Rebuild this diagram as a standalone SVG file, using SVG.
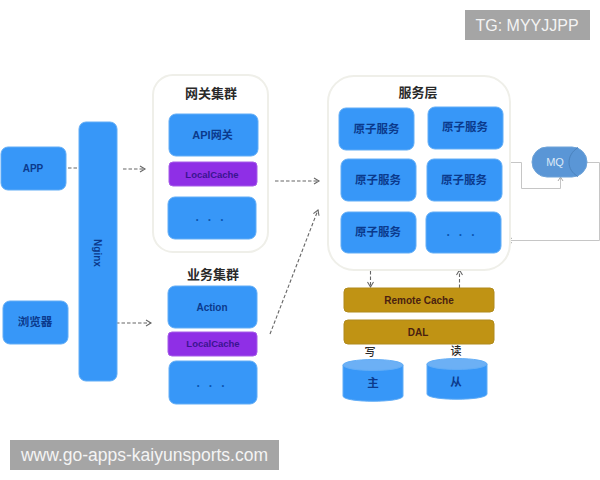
<svg xmlns="http://www.w3.org/2000/svg" width="600" height="480" viewBox="0 0 600 480">
<style>
.b{fill:#3797f8;stroke:#62adf6;stroke-width:1}
.p{fill:#8f2fe6;stroke:#a55ce8;stroke-width:1}
.g{fill:#c09314;stroke:#b08a1c;stroke-width:1}
.c{fill:#fff;stroke:#efefe9;stroke-width:2}
text{font-family:"Liberation Sans","Noto Sans CJK SC",sans-serif;text-anchor:middle}
.t{font-size:10px;font-weight:700;fill:#0b3a8c}
.q{font-size:11px;font-weight:700;fill:#0b3a8c}
.s{font-size:11.5px;font-weight:700;font-family:"Noto Sans CJK SC",sans-serif;fill:#0b3a8c}
.h{font-size:13px;font-weight:700;font-family:"Noto Sans CJK SC",sans-serif;fill:#2a2a2a}
.n{font-size:11px;font-weight:500;font-family:"Noto Sans CJK SC",sans-serif;fill:#2a2a2a}
.l{font-size:9.5px;font-weight:700;fill:#3a1590}
.r{font-size:10px;font-weight:700;fill:#4a1f10}
.e{font-size:12px;font-weight:700;fill:#0b56b0;letter-spacing:9px}
.d{fill:none;stroke:#666;stroke-width:1.1;stroke-dasharray:3.5 2}
.m{fill:none;stroke:#c6c6c6;stroke-width:1}
.w{fill:#a5a5a5}
.wt{fill:#f4f4f4;font-size:17.500px;font-family:"Liberation Sans",sans-serif}
</style>
<defs>
<marker id="a" markerWidth="8" markerHeight="8" refX="6" refY="4" orient="auto" markerUnits="userSpaceOnUse"><path d="M1 1L6 4L1 7" fill="none" stroke="#666" stroke-width="1.1"/></marker>
<marker id="ma" markerWidth="7" markerHeight="7" refX="5" refY="3.5" orient="auto" markerUnits="userSpaceOnUse"><path d="M1 1L5 3.5L1 6" fill="none" stroke="#aaa" stroke-width="1"/></marker>
</defs>
<rect width="600" height="480" fill="#fff"/>
<g id="connectors">
<path class="d" d="M68 168H79"/>
<path class="d" marker-end="url(#a)" d="M123 169H145"/>
<path class="d" marker-end="url(#a)" d="M116 323H151"/>
<path class="d" marker-end="url(#a)" d="M275 181H319"/>
<path class="d" marker-end="url(#a)" d="M270 334L318 210"/>
<path class="d" marker-end="url(#a)" d="M370.500 271V287"/>
<path class="d" marker-end="url(#a)" d="M459.500 288V270"/>
<path class="m" marker-end="url(#ma)" d="M511 162.500H521.500V188.500H560.500V177"/>
<path class="m" marker-end="url(#ma)" d="M587 162.500H599.500V240.500H508"/>
</g>
<g id="gateway-cluster">
<rect class="c" x="153" y="75" width="115" height="177" rx="20"/>
<text class="h" x="211" y="98">网关集群</text>
</g>
<g id="service-layer">
<rect class="c" x="328" y="76" width="182" height="194" rx="26"/>
<text class="h" x="418" y="97">服务层</text>
</g>
<g id="app"><rect class="b" x="1" y="147" width="65" height="43" rx="7"/><text class="t" x="33" y="172">APP</text></g>
<g id="browser"><rect class="b" x="3" y="301" width="65" height="43" rx="7"/><text class="s" x="35" y="326">浏览器</text></g>
<g id="nginx"><rect class="b" x="79" y="122" width="38" height="259" rx="7"/><text class="t" x="97" y="250" transform="rotate(90 94 250)">Nginx</text></g>
<g id="api-gateway"><rect class="b" x="169" y="114" width="89" height="42" rx="7"/><text class="q" x="212.500" y="139">API网关</text></g>
<g id="localcache-1"><rect class="p" x="169" y="162" width="88" height="24" rx="4"/><text class="l" x="212" y="178">LocalCache</text></g>
<g id="gateway-more"><rect class="b" x="168" y="197" width="88" height="42" rx="7"/><text class="e" x="214" y="221">...</text></g>
<g id="business-label"><text class="h" x="213" y="279">业务集群</text></g>
<g id="action"><rect class="b" x="168" y="286" width="89" height="42" rx="7"/><text class="t" x="212" y="311">Action</text></g>
<g id="localcache-2"><rect class="p" x="168" y="332" width="89" height="24" rx="4"/><text class="l" x="213" y="347">LocalCache</text></g>
<g id="business-more"><rect class="b" x="169" y="361" width="88" height="43" rx="7"/><text class="e" x="215" y="387">...</text></g>
<g id="svc-1"><rect class="b" x="339" y="108" width="75" height="42" rx="7"/><text class="s" x="376.500" y="133">原子服务</text></g>
<g id="svc-2"><rect class="b" x="428" y="107" width="75" height="42" rx="7"/><text class="s" x="465" y="131">原子服务</text></g>
<g id="svc-3"><rect class="b" x="341" y="159" width="75" height="42" rx="7"/><text class="s" x="378" y="184">原子服务</text></g>
<g id="svc-4"><rect class="b" x="427" y="159" width="75" height="42" rx="7"/><text class="s" x="464" y="184">原子服务</text></g>
<g id="svc-5"><rect class="b" x="341" y="212" width="75" height="41" rx="7"/><text class="s" x="378" y="236">原子服务</text></g>
<g id="svc-more"><rect class="b" x="426" y="212" width="75" height="41" rx="7"/><text class="e" x="465" y="236">...</text></g>
<g id="mq">
<rect x="532" y="147" width="55" height="30" rx="15" fill="#5a96d6" stroke="#6ea3d8"/>
<path d="M578 147.500C566 155 566 170 578 176.500" fill="none" stroke="#4a82bd"/>
<text x="555" y="166" font-size="11" fill="#dce9f6">MQ</text>
</g>
<g id="remote-cache"><rect class="g" x="344" y="288" width="150" height="24" rx="4"/><text class="r" x="419" y="304">Remote Cache</text></g>
<g id="dal"><rect class="g" x="344" y="320" width="150" height="24" rx="4"/><text class="r" x="418" y="336">DAL</text></g>
<g id="master">
<path d="M343 365V396C343 403 403 403 403 396V365Z" fill="#3797f8" stroke="#62adf6"/>
<ellipse cx="373" cy="365" rx="30" ry="5.500" fill="#6cb0f5" stroke="#62adf6"/>
<text class="s" x="373" y="387">主</text>
<text class="n" x="370" y="356">写</text>
</g>
<g id="slave">
<path d="M427 364V394C427 401 487 401 487 394V364Z" fill="#3797f8" stroke="#62adf6"/>
<ellipse cx="457" cy="364" rx="30" ry="5.500" fill="#6cb0f5" stroke="#62adf6"/>
<text class="s" x="456" y="386">从</text>
<text class="n" x="456" y="355">读</text>
</g>
<g id="watermark-top"><rect class="w" x="465" y="10" width="125" height="30"/><text class="wt" style="font-size:16px" x="527" y="31">TG: MYYJJPP</text></g>
<g id="watermark-bottom"><rect class="w" x="10" y="440" width="269" height="30"/><text class="wt" x="144.500" y="461">www.go-apps-kaiyunsports.com</text></g>
</svg>
